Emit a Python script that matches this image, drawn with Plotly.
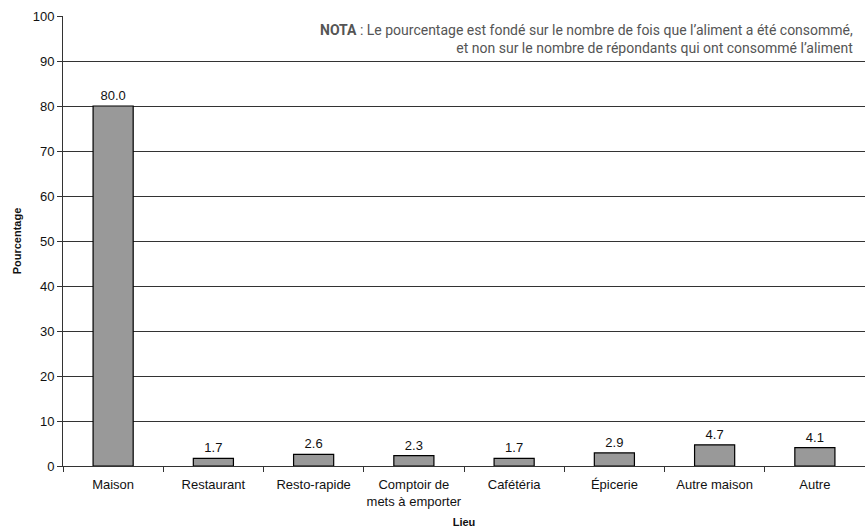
import plotly.graph_objects as go

categories = ["Maison", "Restaurant", "Resto-rapide", "Comptoir de<br>mets à emporter",
              "Cafétéria", "Épicerie", "Autre maison", "Autre"]
values = [80.0, 1.7, 2.6, 2.3, 1.7, 2.9, 4.7, 4.1]
y_ticks = list(range(0, 101, 10))

fig = go.Figure()
fig.add_trace(go.Bar(
    x=categories, y=values,
    width=0.4,
    marker=dict(color="#999999", line=dict(color="#000000", width=1.2)),
    text=[f"{v:.1f}" for v in values],
    textposition="outside",
    textfont=dict(family="Liberation Sans, Arial", size=13, color="#111"),
    cliponaxis=False,
))

fig.update_layout(
    width=865, height=530,
    margin=dict(l=63, r=0, t=16, b=64),
    paper_bgcolor="white", plot_bgcolor="white",
    showlegend=False,
    font=dict(family="Liberation Sans, Arial", size=13, color="#111"),
    xaxis=dict(
        title=dict(text="<b>Lieu</b>", font=dict(size=11), standoff=10),
        automargin=False, tickangle=0, ticklabelstandoff=6,
        showline=True, linecolor="#333", linewidth=1,
        ticks="outside", tickson="boundaries", ticklen=5, tickcolor="#333",
        showgrid=False, range=[-0.5, 7.5],
        tickfont=dict(size=13),
    ),
    yaxis=dict(
        title=dict(text="<b>Pourcentage</b>", font=dict(size=11), standoff=8),
        automargin=False,
        range=[0, 100], tickvals=y_ticks,
        showline=True, linecolor="#333", linewidth=1,
        ticks="outside", ticklen=5, tickcolor="#333",
        showgrid=True, gridcolor="#333", gridwidth=1,
        zeroline=False, tickfont=dict(size=13),
    ),
    annotations=[dict(
        x=1, y=1, xref="paper", yref="paper", xanchor="right", yanchor="top",
        xshift=-10, yshift=-4,
        text="<b>NOTA</b> : Le pourcentage est fondé sur le nombre de fois que l’aliment a été consommé,<br>"
             "et non sur le nombre de répondants qui ont consommé l’aliment",
        showarrow=False, align="right",
        font=dict(family="Roboto", size=14, color="#555"),
    )],
)

fig.write_html("out.html", config={"displayModeBar": False},
               post_script="document.body.style.margin='0';document.body.style.overflow='hidden';")
